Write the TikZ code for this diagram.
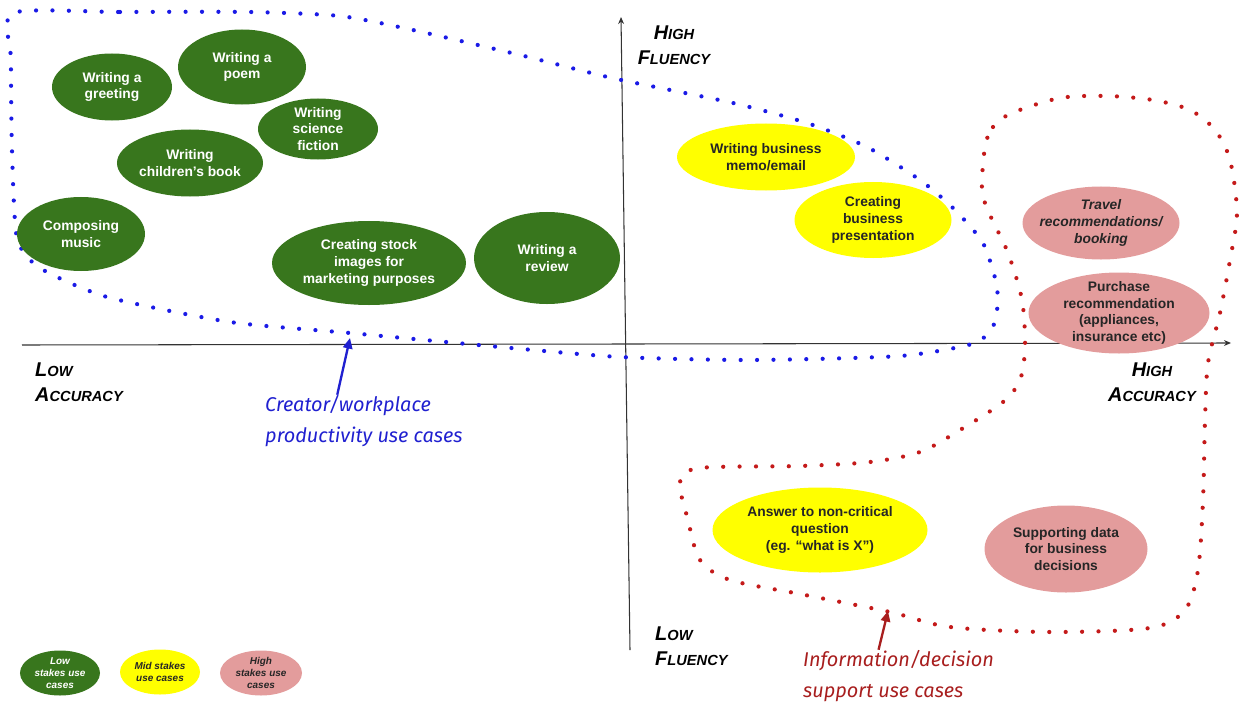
\documentclass[tikz,border=0pt]{standalone}
\usepackage{fontspec}
\setmainfont{Liberation Sans}
\newfontfamily\handfont{Fira Sans}
\usetikzlibrary{shapes.geometric,arrows.meta}

\definecolor{lowgreen}{HTML}{38761D}
\definecolor{midyellow}{HTML}{FFFF00}
\definecolor{highpink}{HTML}{E39C9C}
\definecolor{bluedot}{HTML}{1A1AE6}
\definecolor{reddot}{HTML}{C41A1A}
\definecolor{bluelabel}{HTML}{2020D0}
\definecolor{redlabel}{HTML}{A81E1E}

% marker style caps: big first letter, small rest
\newcommand{\mkcaps}[2]{#1{\fontsize{12.5}{21}\selectfont #2}}

\tikzset{
  usecase/.style={ellipse, inner sep=-30pt, align=center,
    font=\fontsize{11.8}{14.2}\selectfont\bfseries},
  dims/.style 2 args={minimum width=#1cm, minimum height=#2cm},
  lowstakes/.style={usecase, fill=lowgreen, text=white},
  midstakes/.style={usecase, fill=midyellow, text=black!85},
  highstakes/.style={usecase, fill=highpink, text=black!85},
  legendtext/.style={font=\fontsize{8.5}{10.5}\selectfont\bfseries\itshape},
  axis/.style={draw=black!80, line width=0.9pt, -{Stealth[length=6pt,width=5pt]}},
  axislabel/.style={font=\fontsize{17}{21}\selectfont\bfseries\itshape, inner sep=0pt},
  bluedots/.style={draw=bluedot, line width=3.6pt, line cap=round, dash pattern=on 0pt off 14pt},
  reddots/.style={draw=reddot, line width=3.6pt, line cap=round, dash pattern=on 0pt off 14pt},
  handlabel/.style={font=\handfont\itshape\fontsize{17}{27}\selectfont, align=left, inner sep=0pt},
}

\begin{document}
\begin{tikzpicture}[x=0.03cm, y=-0.03cm]
  \useasboundingbox (0,0) rectangle (1239,704);

  % axes
  \coordinate (accLow) at (22,345);
  \coordinate (accHigh) at (1231,343);
  \coordinate (fluLow) at (630,650);
  \coordinate (fluHigh) at (621,17);
  \draw[axis] (accLow) -- (accHigh);
  \draw[axis] (fluLow) -- (fluHigh);

  \node[axislabel, align=center] (highFluency) at (674,45) {\mkcaps{H}{IGH}\\\mkcaps{F}{LUENCY}};
  \node[axislabel, align=left, anchor=west] (lowFluency) at (655,646) {\mkcaps{L}{OW}\\\mkcaps{F}{LUENCY}};
  \node[axislabel, align=left, anchor=west] (lowAccuracy) at (35,382) {\mkcaps{L}{OW}\\\mkcaps{A}{CCURACY}};
  \node[axislabel, align=center] (highAccuracy) at (1152,382) {\mkcaps{H}{IGH}\\\mkcaps{A}{CCURACY}};

  % dotted groupings
  \draw[bluedots] plot[smooth cycle, tension=0.4] coordinates {
    (13,13) (120,12) (250,12) (340,16) (413,30) (520,55) (612,78) (733,103)
    (807,123) (867,147) (920,180) (953,208) (983,243) (997,287) (995,322)
    (975,343) (900,356) (750,360) (620,357) (500,347) (350,333) (230,322)
    (107,297) (40,268) (17,238) (12,150) (11,60)};
  \draw[reddots] plot[smooth cycle, tension=0.5] coordinates {
    (985,147) (993,127) (1012,113) (1060,98) (1107,96) (1153,100) (1190,110)
    (1215,130) (1230,160) (1237,213) (1230,260) (1220,313) (1208,363)
    (1205,420) (1203,500) (1198,570) (1185,610) (1150,628) (1050,632)
    (950,627) (890,612) (800,594) (730,580) (700,560) (688,520) (680,482)
    (700,468) (800,466) (870,462) (920,452) (960,430) (1003,402) (1020,380)
    (1025,347) (1022,300) (1008,253) (990,215) (982,190)};

  % low stakes
  \node[lowstakes, dims={3.6}{2.01}] (greeting) at (112,87) {Writing a\\greeting};
  \node[lowstakes, dims={3.84}{2.25}] (poem) at (242,67) {Writing a\\poem};
  \node[lowstakes, dims={3.6}{1.83}] (scifi) at (318,129) {Writing\\science\\fiction};
  \node[lowstakes, dims={4.38}{2.01}] (kidsBook) at (190,163) {Writing\\children’s book};
  \node[lowstakes, dims={3.84}{2.22}] (music) at (81,234) {Composing\\music};
  \node[lowstakes, dims={5.82}{2.52}] (stockImages) at (369,263) {Creating stock\\images for\\marketing purposes};
  \node[lowstakes, dims={4.38}{2.76}] (review) at (547,258) {Writing a\\review};

  % mid stakes
  \node[midstakes, dims={5.34}{2.01}] (memo) at (766,157) {Writing business\\memo/email};
  \node[midstakes, dims={4.71}{2.28}] (presentation) at (873,220) {Creating\\business\\presentation};
  \node[midstakes, dims={6.45}{2.55}] (answer) at (820,530) {Answer to non-critical\\question\\(eg. “what is X”)};

  % high stakes
  \node[highstakes, dims={4.71}{2.19}, font=\fontsize{11.8}{14.2}\selectfont\bfseries\itshape] (travel) at (1101,223) {Travel\\recommendations/\\booking};
  \node[highstakes, dims={5.43}{2.43}] (purchase) at (1119,313) {Purchase\\recommendation\\(appliances,\\insurance etc)};
  \node[highstakes, dims={4.89}{2.61}] (supportData) at (1066,549) {Supporting data\\for business\\decisions};

  % group labels
  \node[handlabel, text=bluelabel, anchor=west] (creatorLabel) at (265,421) {Creator/workplace\\productivity use cases};
  \node[handlabel, text=redlabel, anchor=west] (infoLabel) at (803,676) {Information/decision\\support use cases};
  \coordinate (creatorTip) at (350,338);
  \coordinate (infoTip) at (888,611);
  \draw[bluelabel, line width=2pt, -{Triangle[length=9pt,width=8pt]}] ([xshift=-0.8cm]creatorLabel.north) -- (creatorTip);
  \draw[redlabel, line width=2pt, -{Triangle[length=9pt,width=8pt]}] ([xshift=-0.6cm]infoLabel.north) -- (infoTip);

  % legend
  \node[lowstakes, dims={2.4}{1.35}, legendtext] (legendLow) at (60,673) {Low\\stakes use\\cases};
  \node[midstakes, dims={2.4}{1.35}, legendtext] (legendMid) at (160,672) {Mid stakes\\use cases};
  \node[highstakes, dims={2.46}{1.35}, legendtext] (legendHigh) at (261,673) {High\\stakes use\\cases};
\end{tikzpicture}
\end{document}
